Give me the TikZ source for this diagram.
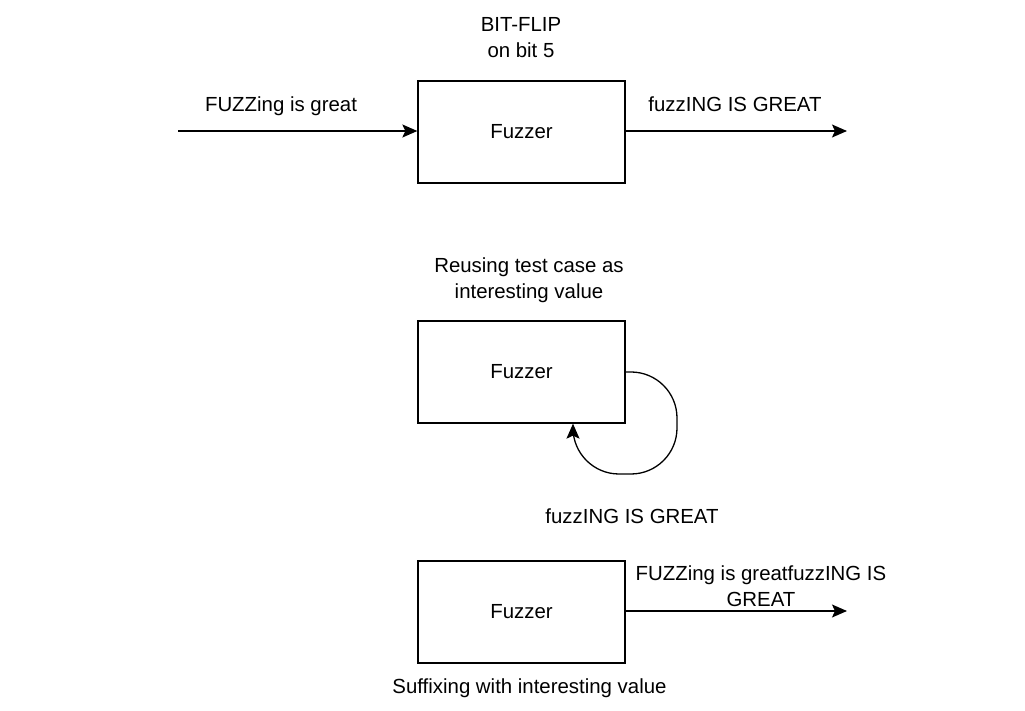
\documentclass[tikz,border=0pt]{standalone}
\usepackage{fontspec}
\setmainfont{Liberation Sans}
\usetikzlibrary{arrows.meta}

\begin{document}
\begin{tikzpicture}[x=0.5pt, y=-0.5pt,
    every node/.style={font=\fontsize{10.2}{13}\selectfont, inner sep=0pt},
    fuzzbox/.style={draw, line width=0.65pt, minimum width=103.5pt, minimum height=51pt},
    flow/.style={line width=0.65pt, -{Stealth[length=7.5pt, width=6.5pt, inset=1.5pt]}}]
    \useasboundingbox (0,0) rectangle (1025,711);

    \node[fuzzbox] (fuzzA) at (521.5,132) {Fuzzer};
    \node[fuzzbox] (fuzzB) at (521.5,372) {Fuzzer};
    \node[fuzzbox] (fuzzC) at (521.5,612) {Fuzzer};

    \coordinate (inA) at (178,131);
    \coordinate (outA) at (847,131);
    \coordinate (outC) at (847,611);

    \draw[flow] (inA) -- (inA -| fuzzA.west);
    \draw[flow] (outA -| fuzzA.east) -- (outA);
    \draw[flow] (outC -| fuzzC.east) -- (outC);
    \draw[flow, rounded corners=23pt] (fuzzB.east |- 0,372) -- (677,372) -- (677,474)
        -- (573,474) -- (fuzzB.south -| 573,0);

    \node[anchor=base] (flipLbl) at (521,32) {BIT-FLIP};
    \node[anchor=base] (flipLblB) at (521,58) {on bit 5};
    \node[anchor=base] (inLbl) at (281,112) {FUZZing is great};
    \node[anchor=base] (outLbl) at (735,112) {fuzzING IS GREAT};
    \node[anchor=base] (reuseLbl) at (529,273) {Reusing test case as};
    \node[anchor=base] (reuseLblB) at (529,299) {interesting value};
    \node[anchor=base] (loopLbl) at (632,524) {fuzzING IS GREAT};
    \node[anchor=base] (catLbl) at (761,581) {FUZZing is greatfuzzING IS};
    \node[anchor=base] (catLblB) at (761,607) {GREAT};
    \node[anchor=base] (suffixLbl) at (529.5,694) {Suffixing with interesting value};
\end{tikzpicture}
\end{document}
